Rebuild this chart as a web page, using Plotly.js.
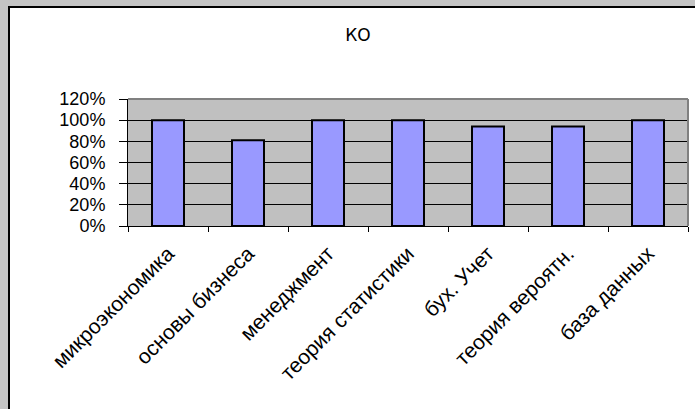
<!DOCTYPE html>
<html>
<head>
<meta charset="utf-8">
<script src="https://cdn.plot.ly/plotly-3.0.1.min.js"></script>
<style>
  html, body { margin:0; padding:0; width:695px; height:409px; overflow:hidden; background:#c4c4c4; }
  #frame { position:absolute; left:8px; top:6px; width:700px; height:420px; border:2px solid #000; background:#fff; }
  #chart { width:700px; height:420px; }
</style>
</head>
<body>
<div id="frame"><div id="chart"></div></div>
<script>
const categories = ["микроэкономика", "основы бизнеса", "менеджмент", "теория статистики", "бух. Учет", "теория вероятн.", "база данных"];
const values = [1.00, 0.81, 1.00, 1.00, 0.94, 0.94, 1.00];
const yTickValues = [0, 0.2, 0.4, 0.6, 0.8, 1.0, 1.2];
const yTickLabels = ["0%", "20%", "40%", "60%", "80%", "100%", "120%"];
const chartTitle = "КО";

const trace = {
  type: "bar",
  x: categories,
  y: values,
  marker: { color: "#9999ff", line: { color: "#000000", width: 2 } },
  hoverinfo: "none"
};

const layout = {
  width: 700, height: 420,
  margin: { l: 118, r: 22, t: 91, b: 202, pad: 0 },
  paper_bgcolor: "#ffffff",
  plot_bgcolor: "#c0c0c0",
  showlegend: false,
  bargap: 0.6,
  title: { text: chartTitle, x: 0.497, xanchor: "center", y: 1 - 27/420, yanchor: "middle",
           font: { family: "DejaVu Sans, Liberation Sans, Arial", size: 17, color: "#000" } },
  font: { family: "Liberation Sans, Arial", color: "#000" },
  xaxis: {
    type: "category",
    showline: true, linecolor: "#000", linewidth: 1,
    ticks: "outside", tickson: "boundaries", ticklen: 5, tickcolor: "#000", tickwidth: 1,
    tickangle: -45,
    ticklabelstandoff: 6,
    tickfont: { family: "Liberation Sans, Arial", size: 21, color: "#000" },
    showgrid: false, zeroline: false, fixedrange: true
  },
  yaxis: {
    range: [0, 1.2],
    tickvals: yTickValues, ticktext: yTickLabels,
    showline: true, linecolor: "#000", linewidth: 1,
    ticks: "outside", ticklen: 8, tickcolor: "#000", tickwidth: 1,
    ticklabelstandoff: 10,
    tickfont: { family: "Liberation Sans, Arial", size: 18, color: "#000" },
    showgrid: true, gridcolor: "#000", gridwidth: 1,
    zeroline: false, fixedrange: true
  },
  shapes: [
    { type: "line", xref: "paper", yref: "paper", x0: 0, x1: 1, y0: 1, y1: 1, line: { color: "#808080", width: 2 } },
    { type: "line", xref: "paper", yref: "paper", x0: 1, x1: 1, y0: 0, y1: 1, line: { color: "#808080", width: 2 } }
  ]
};

Plotly.newPlot("chart", [trace], layout, { staticPlot: true, displayModeBar: false });
</script>
</body>
</html>
